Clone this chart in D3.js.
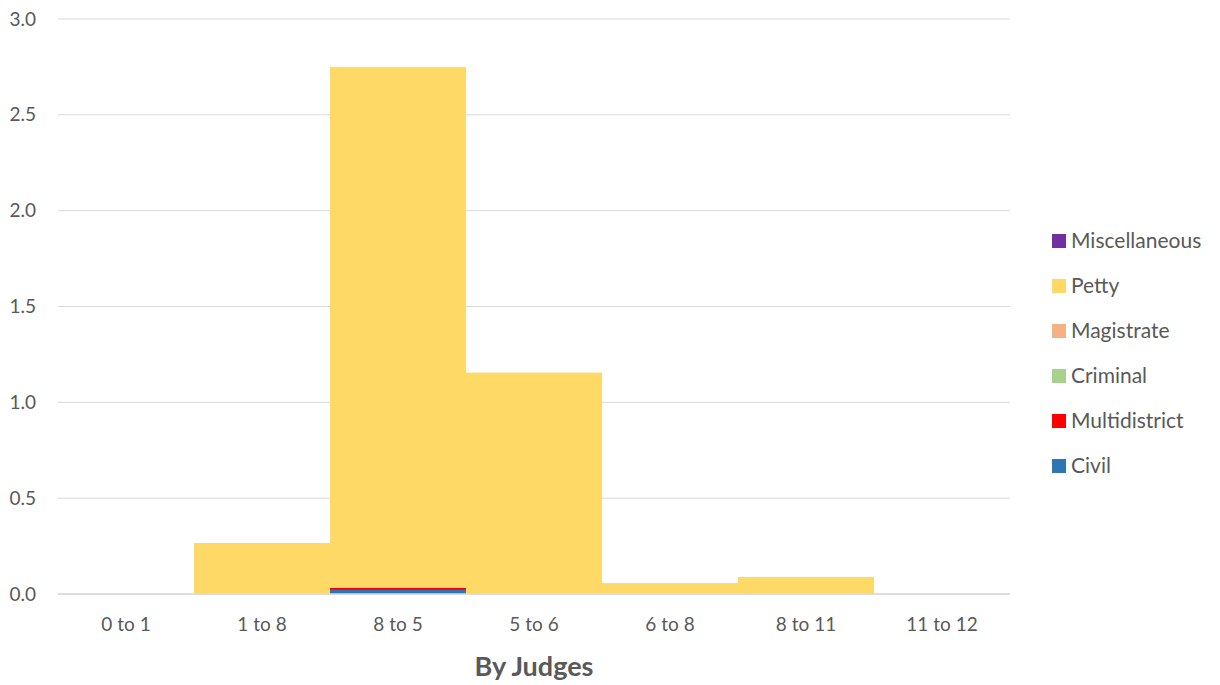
<!DOCTYPE html>
<html><head><meta charset="utf-8">
<script src="https://cdn.jsdelivr.net/npm/d3@7"></script>
<style>body{margin:0;background:#fff}</style>
</head><body>
<svg id="chart" width="1220" height="685"></svg>
<script>
const categories = ["0 to 1","1 to 8","8 to 5","5 to 6","6 to 8","8 to 11","11 to 12"];
const seriesNames = ["Civil","Multidistrict","Criminal","Magistrate","Petty","Miscellaneous"];
const civil = [0,0,0.021,0,0,0,0];
const multidistrict = [0,0,0.012,0,0,0,0];
const criminal = [0,0,0,0,0,0,0];
const magistrate = [0,0,0,0,0,0,0];
const petty = [0,0.266,2.717,1.155,0.057,0.089,0];
const miscellaneous = [0,0,0,0,0,0,0];
const yTicks = [0,0.5,1.0,1.5,2.0,2.5,3.0];
const colors = ["#2E75B6","#FF0000","#A9D18E","#F4B183","#FFD966","#7030A0"];
const title = "By Judges";

const seriesVals = [civil,multidistrict,criminal,magistrate,petty,miscellaneous];
const table = categories.map((c,i)=>{const o={cat:c}; seriesNames.forEach((s,j)=>o[s]=seriesVals[j][i]); return o;});

const svg = d3.select("#chart");
const m = {left:58,right:1010,top:19,bottom:594};
const x = d3.scaleBand().domain(categories).range([m.left,m.right]).padding(0);
const y = d3.scaleLinear().domain([0,3]).range([m.bottom,m.top]);
const font = "Lato, 'Open Sans', sans-serif";

svg.append("g").selectAll("line").data(yTicks).join("line")
  .attr("x1",m.left).attr("x2",m.right)
  .attr("y1",d=>y(d)).attr("y2",d=>y(d))
  .attr("stroke","#d9d9d9").attr("stroke-width",1);

const stack = d3.stack().keys(seriesNames)(table);
svg.append("g").selectAll("g").data(stack).join("g")
  .attr("fill",(d,i)=>colors[i])
  .selectAll("rect").data(d=>d).join("rect")
  .attr("x",d=>x(d.data.cat)).attr("width",x.bandwidth())
  .attr("y",d=>y(d[1])).attr("height",d=>Math.max(0,y(d[0])-y(d[1])));

svg.append("line").attr("x1",m.left).attr("x2",m.right)
  .attr("y1",y(0)).attr("y2",y(0)).attr("stroke","#d9d9d9").attr("stroke-width",1.5);

const yAxis = d3.axisLeft(y).tickValues(yTicks).tickFormat(d3.format(".1f")).tickSize(0).tickPadding(22);
const ya = svg.append("g").attr("transform",`translate(${m.left},0)`).call(yAxis);
ya.select(".domain").remove();
ya.selectAll("text").attr("font-family",font).attr("font-size",19).attr("fill","#595959");

const xAxis = d3.axisBottom(x).tickSize(0).tickPadding(24);
const xa = svg.append("g").attr("transform",`translate(0,${m.bottom})`).call(xAxis);
xa.select(".domain").remove();
xa.selectAll("text").attr("font-family",font).attr("font-size",19).attr("fill","#595959");

svg.append("text").attr("x",(m.left+m.right)/2).attr("y",676).attr("text-anchor","middle")
  .attr("font-family",font).attr("font-weight","bold").attr("font-size",27).attr("fill","#595959").text(title);

const legendOrder = seriesNames.map((s,i)=>({name:s,color:colors[i]})).reverse();
const lg = svg.append("g").selectAll("g").data(legendOrder).join("g")
  .attr("transform",(d,i)=>`translate(1052,${241+i*45})`);
lg.append("rect").attr("x",0).attr("y",-7).attr("width",14).attr("height",14).attr("fill",d=>d.color);
lg.append("text").attr("x",19).attr("y",0).attr("dy","0.35em")
  .attr("font-family",font).attr("font-size",21).attr("fill","#595959").text(d=>d.name);
</script>
</body></html>
